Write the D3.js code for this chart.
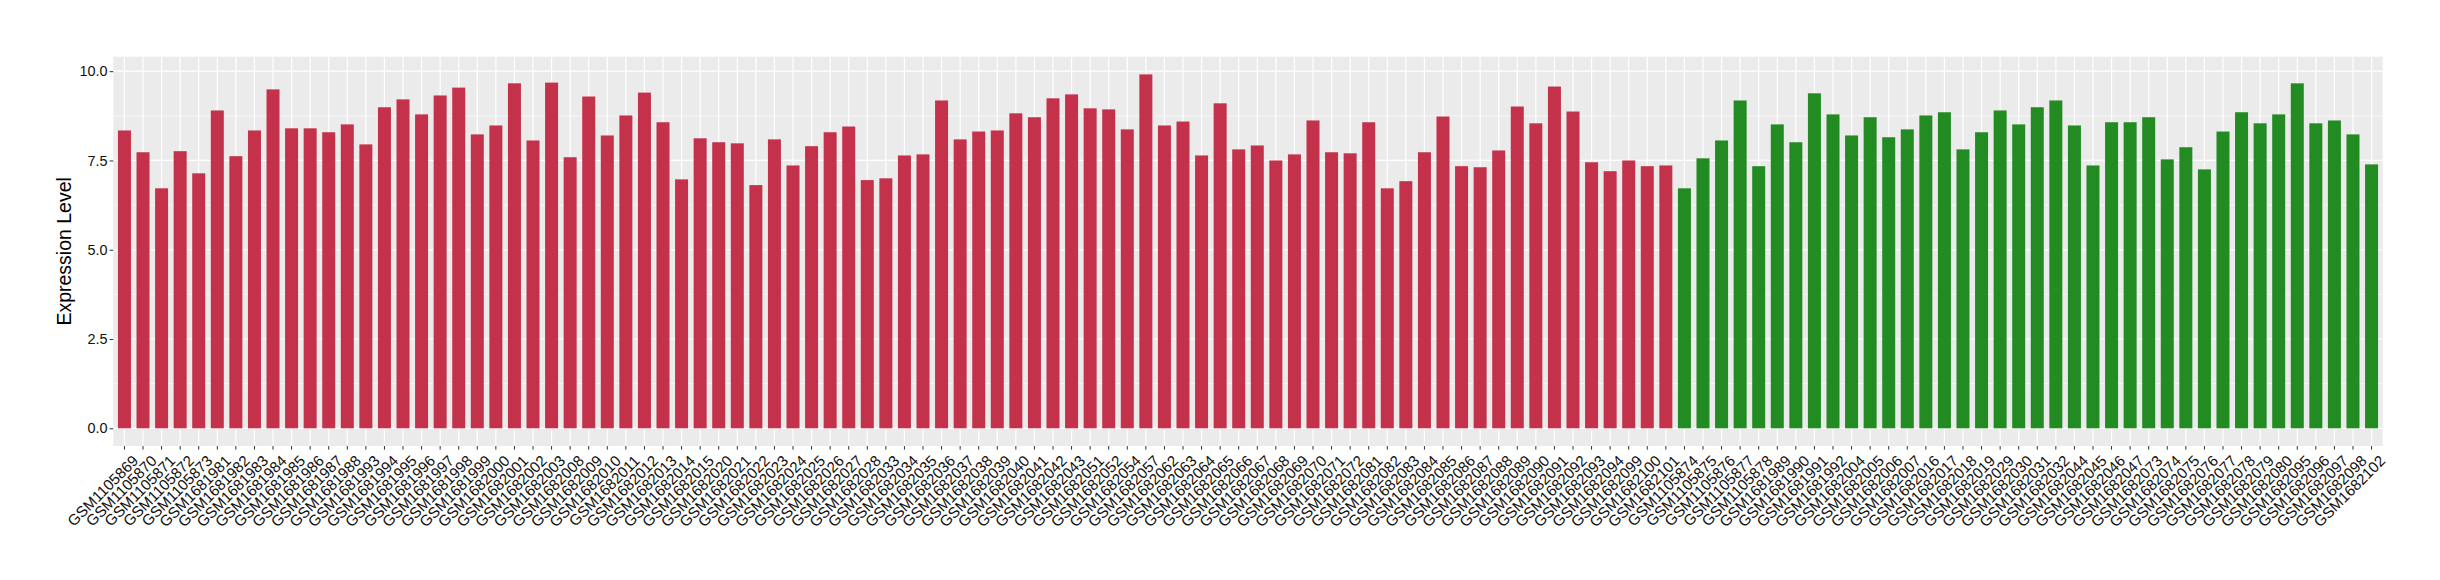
<!DOCTYPE html>
<html>
<head>
<meta charset="utf-8">
<script src="https://cdn.jsdelivr.net/npm/d3@7"></script>
<style>
  body { margin: 0; background: #fff; }
  svg text { font-family: "Liberation Sans", Arial, sans-serif; }
</style>
</head>
<body>
<svg id="chart" width="2440" height="580"></svg>
<script>
// tumour samples (red)
const redSamples = [
    "GSM1105869", "GSM1105870", "GSM1105871", "GSM1105872", "GSM1105873",
    "GSM1681981", "GSM1681982", "GSM1681983", "GSM1681984", "GSM1681985", "GSM1681986", "GSM1681987", "GSM1681988",
    "GSM1681993", "GSM1681994", "GSM1681995", "GSM1681996", "GSM1681997", "GSM1681998", "GSM1681999",
    "GSM1682000", "GSM1682001", "GSM1682002", "GSM1682003",
    "GSM1682008", "GSM1682009", "GSM1682010", "GSM1682011", "GSM1682012", "GSM1682013", "GSM1682014", "GSM1682015",
    "GSM1682020", "GSM1682021", "GSM1682022", "GSM1682023", "GSM1682024", "GSM1682025", "GSM1682026", "GSM1682027", "GSM1682028",
    "GSM1682033", "GSM1682034", "GSM1682035", "GSM1682036", "GSM1682037", "GSM1682038", "GSM1682039", "GSM1682040", "GSM1682041", "GSM1682042", "GSM1682043",
    "GSM1682051", "GSM1682052", "GSM1682054", "GSM1682057",
    "GSM1682062", "GSM1682063", "GSM1682064", "GSM1682065", "GSM1682066", "GSM1682067", "GSM1682068", "GSM1682069", "GSM1682070", "GSM1682071", "GSM1682072",
    "GSM1682081", "GSM1682082", "GSM1682083", "GSM1682084", "GSM1682085", "GSM1682086", "GSM1682087", "GSM1682088", "GSM1682089", "GSM1682090", "GSM1682091", "GSM1682092", "GSM1682093", "GSM1682094",
    "GSM1682099", "GSM1682100", "GSM1682101"
];
const redValues = [
    8.34, 7.73, 6.72, 7.76, 7.14,
    8.90, 7.62, 8.34, 9.49, 8.40, 8.40, 8.29, 8.51,
    7.95, 8.99, 9.21, 8.79, 9.32, 9.54, 8.23,
    8.48, 9.66, 8.06, 9.68,
    7.59, 9.29, 8.20, 8.76, 9.40, 8.57, 6.97, 8.12,
    8.01, 7.98, 6.81, 8.09, 7.36, 7.90, 8.29, 8.45, 6.95,
    7.00, 7.64, 7.67, 9.18, 8.09, 8.31, 8.34, 8.82, 8.71, 9.24, 9.35,
    8.96, 8.93, 8.37, 9.91,
    8.48, 8.59, 7.64, 9.10, 7.81, 7.92, 7.50, 7.67, 8.62, 7.73, 7.70,
    8.57, 6.72, 6.92, 7.73, 8.73, 7.34, 7.31, 7.78, 9.01, 8.54, 9.57, 8.87, 7.45, 7.20,
    7.50, 7.34, 7.36
];

// normal samples (green)
const greenSamples = [
    "GSM1105874", "GSM1105875", "GSM1105876", "GSM1105877", "GSM1105878",
    "GSM1681989", "GSM1681990", "GSM1681991", "GSM1681992",
    "GSM1682004", "GSM1682005", "GSM1682006", "GSM1682007",
    "GSM1682016", "GSM1682017", "GSM1682018", "GSM1682019",
    "GSM1682029", "GSM1682030", "GSM1682031", "GSM1682032",
    "GSM1682044", "GSM1682045", "GSM1682046", "GSM1682047",
    "GSM1682073", "GSM1682074", "GSM1682075", "GSM1682076", "GSM1682077", "GSM1682078", "GSM1682079", "GSM1682080",
    "GSM1682095", "GSM1682096", "GSM1682097", "GSM1682098",
    "GSM1682102"
];
const greenValues = [
    6.72, 7.56, 8.06, 9.18, 7.34,
    8.51, 8.01, 9.38, 8.79,
    8.20, 8.71, 8.15, 8.37,
    8.76, 8.85, 7.81, 8.29,
    8.90, 8.51, 8.99, 9.18,
    8.48, 7.36, 8.57, 8.57,
    8.71, 7.53, 7.87, 7.25, 8.31, 8.85, 8.54, 8.79,
    9.66, 8.54, 8.62, 8.23,
    7.39
];

const yTicks = [0, 2.5, 5, 7.5, 10];
const yMinorTicks = [1.25, 3.75, 6.25, 8.75];

const data = redSamples.map((s, i) => ({ sample: s, value: redValues[i], color: "#C3314A" }))
    .concat(greenSamples.map((s, i) => ({ sample: s, value: greenValues[i], color: "#228B22" })));

const panel = { left: 113.3, right: 2382.7, top: 56.7, bottom: 446 };

const svg = d3.select("#chart");

const x = d3.scaleBand()
    .domain(data.map(d => d.sample))
    .range([panel.left, panel.right])
    .paddingInner(0.3)
    .paddingOuter(0.25);

const yMax = d3.max(data, d => d.value);
const pad = yMax * 0.05;
const y = d3.scaleLinear()
    .domain([-pad, yMax + pad])
    .range([panel.bottom, panel.top]);

// panel background
svg.append("rect")
    .attr("x", panel.left)
    .attr("y", panel.top)
    .attr("width", panel.right - panel.left)
    .attr("height", panel.bottom - panel.top)
    .attr("fill", "#EBEBEB");

// grid
svg.selectAll(".minor")
    .data(yMinorTicks)
    .enter().append("line")
    .attr("x1", panel.left).attr("x2", panel.right)
    .attr("y1", d => y(d)).attr("y2", d => y(d))
    .attr("stroke", "#fff").attr("stroke-width", 0.6);

svg.selectAll(".major-y")
    .data(yTicks)
    .enter().append("line")
    .attr("x1", panel.left).attr("x2", panel.right)
    .attr("y1", d => y(d)).attr("y2", d => y(d))
    .attr("stroke", "#fff").attr("stroke-width", 1.2);

svg.selectAll(".major-x")
    .data(data)
    .enter().append("line")
    .attr("x1", d => x(d.sample) + x.bandwidth() / 2)
    .attr("x2", d => x(d.sample) + x.bandwidth() / 2)
    .attr("y1", panel.top).attr("y2", panel.bottom)
    .attr("stroke", "#fff").attr("stroke-width", 1.2);

// bars
svg.selectAll(".bar")
    .data(data)
    .enter().append("rect")
    .attr("x", d => x(d.sample))
    .attr("width", x.bandwidth())
    .attr("y", d => y(d.value))
    .attr("height", d => y(0) - y(d.value))
    .attr("fill", d => d.color);

// y axis
const yAxis = svg.append("g")
    .attr("transform", `translate(${panel.left},0)`)
    .call(d3.axisLeft(y).tickValues(yTicks).tickFormat(d3.format(".1f")).tickSize(3.7).tickPadding(2));
yAxis.select(".domain").remove();
yAxis.selectAll(".tick line").attr("stroke", "#333").attr("stroke-width", 1);
yAxis.selectAll(".tick text")
    .attr("fill", "#111")
    .attr("font-size", "14.4px");

// x axis, labels at 45 degrees ending under the tick
const xAxis = svg.append("g")
    .attr("transform", `translate(0,${panel.bottom})`)
    .call(d3.axisBottom(x).tickSize(3.7));
xAxis.select(".domain").remove();
xAxis.selectAll(".tick line").attr("stroke", "#333").attr("stroke-width", 1);
xAxis.selectAll(".tick text")
    .attr("x", 0)
    .attr("y", 0)
    .attr("fill", "#111")
    .attr("font-size", "15.2px")
    .attr("text-anchor", "end")
    .attr("dy", "0.72em")
    .attr("transform", "translate(7,8) rotate(-45)");

// y axis title
svg.append("text")
    .attr("transform", `translate(71,${(panel.top + panel.bottom) / 2}) rotate(-90)`)
    .attr("text-anchor", "middle")
    .attr("font-size", "19.5px")
    .attr("fill", "#000")
    .text("Expression Level");
</script>
</body>
</html>
